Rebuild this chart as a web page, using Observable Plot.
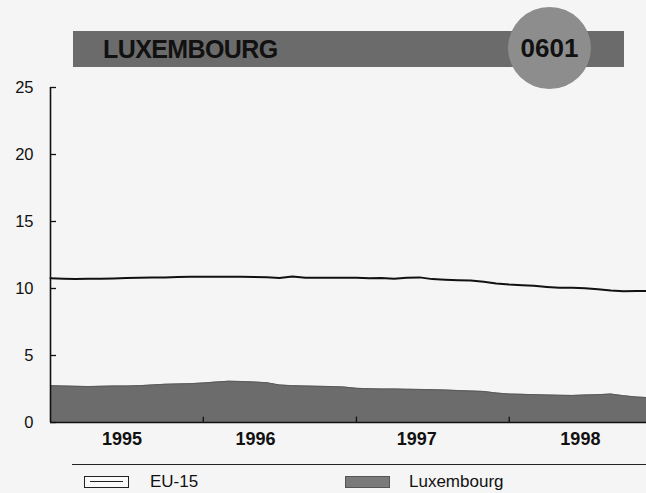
<!DOCTYPE html>
<html>
<head>
<meta charset="utf-8">
<script src="https://cdn.jsdelivr.net/npm/d3@7"></script>
<script src="https://cdn.jsdelivr.net/npm/@observablehq/plot@0.6"></script>
<style>
  html, body { margin: 0; padding: 0; background: #f5f5f5; }
  #wrap { position: relative; width: 646px; height: 493px; overflow: hidden; background: #f5f5f5;
          font-family: "Liberation Sans", Arial, Helvetica, sans-serif; }
  #bar { position: absolute; left: 73px; top: 31px; width: 551px; height: 36px; background: #6b6b6b; }
  #bar span { position: absolute; left: 30px; top: 3px; font-size: 25px; font-weight: bold; color: #111;
              letter-spacing: -0.6px; line-height: 30px; }
  #badge { position: absolute; left: 508px; top: 7px; width: 83px; height: 82px; border-radius: 50%;
           background: #8d8d8d; text-align: center; line-height: 82px; font-size: 26px; font-weight: bold; color: #111; }
  #chart { position: absolute; left: 0; top: 75px; }
  #rule { position: absolute; left: 72px; top: 464px; width: 574px; height: 0; border-top: 1.5px solid #222; }
  .sw { position: absolute; top: 476px; width: 45px; height: 12px; box-sizing: border-box; border: 1.3px solid #222; }
  .lbl { position: absolute; top: 472px; font-size: 17px; color: #111; line-height: 20px; }
</style>
</head>
<body>
<div id="wrap">
  <div id="bar"><span>LUXEMBOURG</span></div>
  <div id="badge">0601</div>
  <div id="chart"></div>
  <div id="rule"></div>
  <div class="sw" style="left:84px;background:#fafafa;"><div style="position:absolute;left:5px;right:5px;top:4px;border-top:1.3px solid #222;"></div></div>
  <div class="lbl" style="left:150px;">EU-15</div>
  <div class="sw" style="left:345px;background:#7a7a7a;border-color:#555;"></div>
  <div class="lbl" style="left:409px;">Luxembourg</div>
</div>
<script>
// Monthly series, January 1995 onwards
const startMonth = "1995-01-01";
const eu15 = [10.76, 10.72, 10.70, 10.72, 10.72, 10.75, 10.78, 10.80, 10.82, 10.83, 10.85, 10.87,
              10.87, 10.87, 10.88, 10.88, 10.86, 10.84, 10.78, 10.90, 10.80, 10.80, 10.80, 10.80,
              10.80, 10.76, 10.78, 10.72, 10.80, 10.83, 10.70, 10.66, 10.62, 10.60, 10.50, 10.38,
              10.30, 10.25, 10.20, 10.12, 10.05, 10.05, 10.02, 9.95, 9.85, 9.80, 9.82, 9.82];
const luxembourg = [2.75, 2.72, 2.70, 2.68, 2.70, 2.72, 2.72, 2.75, 2.80, 2.85, 2.88, 2.90,
                    2.95, 3.02, 3.08, 3.06, 3.02, 2.97, 2.80, 2.75, 2.72, 2.70, 2.68, 2.65,
                    2.55, 2.52, 2.50, 2.50, 2.48, 2.47, 2.45, 2.42, 2.38, 2.35, 2.32, 2.20,
                    2.12, 2.10, 2.08, 2.05, 2.03, 2.02, 2.05, 2.08, 2.12, 2.00, 1.90, 1.85];
const xDomain = ["1995-01-01", "1998-11-25"];
const yearStarts = ["1996-01-01", "1997-01-01", "1998-01-01"];
const yearLabels = ["1995", "1996", "1997", "1998"];
const yearLabelDates = ["1995-06-21", "1996-05-05", "1997-05-25", "1998-06-20"];
const yTicks = [0, 5, 10, 15, 20, 25];

const months = d3.utcMonth.range(new Date(startMonth), d3.utcMonth.offset(new Date(startMonth), eu15.length));
const euData = months.map((d, i) => ({date: d, value: eu15[i]}));
const luxData = months.map((d, i) => ({date: d, value: luxembourg[i]}));
const d0 = new Date(xDomain[0]);
const labelMap = new Map(yearLabelDates.map((d, i) => [+new Date(d), yearLabels[i]]));

const chart = Plot.plot({
  width: 646,
  height: 385,
  marginLeft: 50,
  marginRight: 0,
  marginTop: 12,
  marginBottom: 38,
  style: {background: "transparent", fontFamily: "'Liberation Sans', Arial, sans-serif", overflow: "visible", color: "#111"},
  x: {type: "utc", domain: xDomain.map(d => new Date(d))},
  y: {domain: [0, 25]},
  marks: [
    Plot.areaY(luxData, {x: "date", y: "value", fill: "#6c6c6c"}),
    Plot.lineY(luxData, {x: "date", y: "value", stroke: "#5a5a5a", strokeWidth: 1}),
    Plot.lineY(euData, {x: "date", y: "value", stroke: "#111", strokeWidth: 2}),
    Plot.ruleY([0], {stroke: "#111", strokeWidth: 1.6}),
    Plot.ruleX(yearStarts.map(d => new Date(d)), {y1: 0, y2: 0.4, stroke: "#111", strokeWidth: 1.3}),
    Plot.ruleX([d0], {y1: 0, y2: 25, stroke: "#111", strokeWidth: 1.6}),
    Plot.axisY({ticks: yTicks, tickSize: 6, dx: 6, tickFormat: () => "", label: null, stroke: "#111", strokeWidth: 1.3}),
    Plot.axisY({ticks: yTicks, tickSize: 0, tickPadding: 17, fontSize: 16.5, label: null, fill: "#111"}),
    Plot.axisX({ticks: yearLabelDates.map(d => new Date(d)), tickSize: 0, tickPadding: 10,
                tickFormat: d => labelMap.get(+d), fontSize: 18, fontWeight: "bold", label: null, fill: "#111"})
  ]
});
document.getElementById("chart").appendChild(chart);
</script>
</body>
</html>
